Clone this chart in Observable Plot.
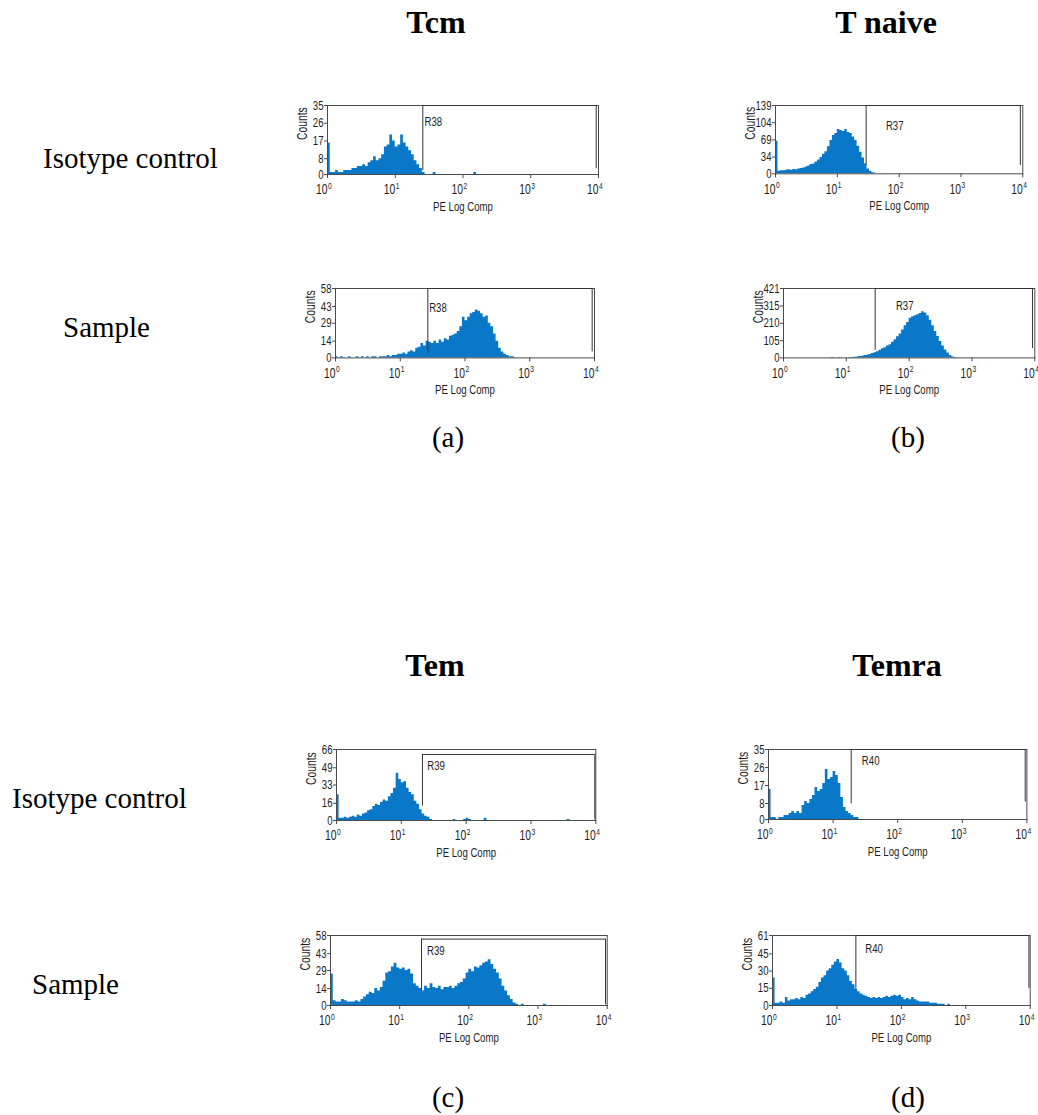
<!DOCTYPE html>
<html><head><meta charset="utf-8">
<script src="https://cdn.jsdelivr.net/npm/d3@7"></script>
<script src="https://cdn.jsdelivr.net/npm/@observablehq/plot@0.6"></script>
<style>
html,body{margin:0;padding:0;background:#fff;}
#page{position:relative;width:1038px;height:1115px;overflow:hidden;background:#fff;}
#page svg{position:absolute;overflow:visible;background:transparent;}
</style></head>
<body><div id="page"></div>
<script>
// ---------- DATA ----------
const decades = [0, 1, 2, 3, 4];           // log10 of PE intensity (10^0 .. 10^4)
const BIN = 0.04;                          // histogram bin width in decades

const tcmIso = [16,1,1,2,1,1,2,2,2,3, 3,4,4,5,4,6,7,9,7,8, 10,14,15,20,17,14,15,20,16,14, 12,10,7,5,3,1,0,0,0,1, 0,0,0,0,0,0,0,0,0,0, 0,0,0,0,1];
const tcmSample = [1,0,1,0,0,1,0,0,1,0, 1,0,1,0,1,1,0,1,1,1, 2,1,2,2,3,3,4,3,5,6, 5,8,9,12,10,14,13,12,14,12, 15,13,16,15,18,19,20,22,26,34, 31,34,37,38,40,39,37,34,35,29, 26,20,14,8,5,3,2,1,1];
const tnIso = [66,5,6,6,7,8,7,9,8,10, 11,12,14,16,19,20,24,28,33,40, 45,55,68,78,82,90,88,86,90,84, 82,75,68,56,44,32,20,10,5,2, 1];
const tnSample = [0,0,0,0,0,0,0,0,0,0, 0,0,0,0,0,0,0,0,0,3, 0,0,3,0,0,0,2,3,4,6, 8,10,14,16,20,26,32,38,46,55, 62,72,80,95,110,128,145,170,195,215, 240,250,255,262,270,280,272,255,228,195, 160,130,100,72,48,30,15,6,2];
const temIso = [24,2,2,3,2,3,4,3,5,4, 6,7,9,10,13,15,14,17,19,18, 22,25,30,44,38,35,36,30,26,24, 18,15,10,6,4,3,1,0,0,0, 0,0,0,0,0,1,0,0,0,1, 2,1,0,0,0,0,0,2,0,0, 0,0,0,0,0,0,0,0,0,0, 0,0,0,0,0,0,0,0,0,0, 0,0,0,0,0,0,0,0,0,1];
const temSample = [26,4,3,3,5,4,3,3,3,4, 3,5,7,9,11,10,14,12,15,20, 27,28,32,35,31,30,31,29,30,26, 18,16,14,12,16,14,18,15,14,16, 13,15,15,16,14,16,18,19,22,27, 30,28,32,31,33,35,36,38,34,30, 27,22,16,12,8,5,2,1,0,1, 0,0,0,0,0,0,0,1];
const temraIso = [15,1,1,0,1,1,2,2,3,4, 3,4,3,7,9,8,10,12,16,14, 15,18,25,20,21,24,22,18,11,6, 4,3,2,1,1];
const temraSample = [24,2,2,3,2,7,4,5,5,6, 5,7,6,9,10,12,14,16,20,24, 26,30,32,35,38,40,37,32,30,26, 21,18,14,12,10,9,8,7,6,7, 6,7,6,7,8,7,8,9,8,9, 7,5,6,5,7,5,4,3,3,3, 3,2,2,2,1,1,1,0,1];

const yTickSets = [
  [0, 8, 17, 26, 35], [0, 14, 29, 43, 58],
  [0, 34, 69, 104, 139], [0, 105, 210, 315, 421],
  [0, 16, 33, 49, 66], [0, 14, 29, 43, 58],
  [0, 8, 17, 26, 35], [0, 15, 30, 45, 61]
];
const gateNames = ["R38", "R38", "R37", "R37", "R39", "R39", "R40", "R40"];
const gateStart = [1.407, 1.426, 1.466, 1.459, 1.326, 1.316, 1.28, 1.294];
const gateEnd   = [3.966, 3.964, 3.96, 3.963, 3.985, 3.976, 3.974, 3.98];
const gateTop   = [35, 58, 139, 421, 61.4, 55, 35, 61];
const gateLowStart = [2, 3.6, 17, 46, 13.3, 11.6, 7.8, 13.7];
const gateLowEnd   = [2.9, 5, 17, 57, 0.5, 0.5, 8.7, 15];

const histograms = [tcmIso, tcmSample, tnIso, tnSample, temIso, temSample, temraIso, temraSample];

// ---------- LAYOUT (screen placement of each panel's frame) ----------
const frames = [
  {x0: 327.3, x4: 598.3, top: 104.7, bottom: 173.7},
  {x0: 335.0, x4: 594.0, top: 288.3, bottom: 357.7},
  {x0: 775.0, x4: 1022.3, top: 104.7, bottom: 173.0},
  {x0: 782.7, x4: 1034.0, top: 288.3, bottom: 357.7},
  {x0: 335.7, x4: 595.0, top: 748.7, bottom: 819.7},
  {x0: 330.0, x4: 606.7, top: 935.3, bottom: 1005.3},
  {x0: 768.3, x4: 1026.7, top: 749.3, bottom: 819.3},
  {x0: 772.3, x4: 1030.0, top: 935.3, bottom: 1005.3}
];
const labelOffset = [0.025, 0.02, 0.32, 0.33, 0.075, 0.08, 0.165, 0.145];
const labelDy = [11, 14, 15, 12, 6, 7, 6, 8];

const page = document.getElementById("page");
const SANS = "'Liberation Sans', Arial, Helvetica, sans-serif";
const BLUE = "#0a78c8";
const INK = "#1e1e1e";

histograms.forEach((counts, k) => {
  const F = frames[k];
  const ticks = yTickSets[k];
  const ymax = ticks[ticks.length - 1];
  const steps = counts.map((c, i) => ({x: i * BIN, n: c}));
  steps.push({x: counts.length * BIN, n: 0});
  const gate = {s: gateStart[k], e: gateEnd[k], top: gateTop[k], name: gateNames[k]};
  const mL = 44, mT = 6, mB = 46;
  const w = F.x4 - F.x0, h = F.bottom - F.top;
  const width = Math.ceil(w + mL + 10);
  const height = Math.ceil(h + mT + mB);
  const svg = Plot.plot({
    width, height,
    marginLeft: mL, marginRight: width - mL - w, marginTop: mT, marginBottom: height - mT - h,
    x: {domain: [0, 4]},
    y: {domain: [0, ymax]},
    style: {fontFamily: SANS, fontSize: "13px", color: INK, background: "transparent", overflow: "visible"},
    marks: [
      Plot.areaY(steps, {x: "x", y: "n", curve: "step-after", fill: BLUE}),
      Plot.frame({stroke: "#4a4a4a"}),
      Plot.ruleX([{x: gate.s, y1: gateLowStart[k], y2: gate.top}, {x: gate.e, y1: gateLowEnd[k], y2: gate.top}],
        {x: "x", y1: "y1", y2: "y2", stroke: "#333"}),
      Plot.ruleY([{y: gate.top, x1: gate.s, x2: gate.e}], {y: "y", x1: "x1", x2: "x2", stroke: "#333"}),
      Plot.text([gate], {x: d => d.s + labelOffset[k], y: "top", text: "name", textAnchor: "start",
        lineAnchor: "top", dy: labelDy[k], fontSize: 13, fill: INK}),
      Plot.axisY({ticks, tickSize: 3, tickPadding: 1, fontSize: 13, label: null, stroke: "#4a4a4a"}),
      Plot.axisX({ticks: decades, tickSize: 4, tickFormat: () => "", label: null, stroke: "#4a4a4a"}),
      Plot.text(decades, {x: d => d, text: () => "10", frameAnchor: "bottom", textAnchor: "end",
        lineAnchor: "top", dy: 10, fontSize: 14, fill: INK}),
      Plot.text(decades, {x: d => d, text: d => String(d), frameAnchor: "bottom", textAnchor: "start",
        lineAnchor: "top", dy: 8, dx: 0.5, fontSize: 9, fill: INK}),
      Plot.text(["PE Log Comp"], {frameAnchor: "bottom", lineAnchor: "top", dy: 27, fontSize: 13, fill: INK}),
      Plot.text(["Counts"], {frameAnchor: "left", rotate: -90, dx: -25, fontSize: 14, fill: INK})
    ]
  });
  // condense the sans-serif lettering like the cytometer export
  svg.querySelectorAll("text").forEach(t => {
    const tr = t.getAttribute("transform");
    if (tr) t.setAttribute("transform", tr + " scale(0.74,1)");
  });
  svg.style.position = "absolute";
  svg.style.left = (F.x0 - mL) + "px";
  svg.style.top = (F.top - mT) + "px";
  svg.style.maxWidth = "none";
  page.appendChild(svg);
});

// ---------- page-level serif lettering ----------
const pageTexts = [
  {t: "Tcm", x: 436, y: 33, bold: true, a: "middle", s: 32},
  {t: "T naive", x: 886, y: 33, bold: true, a: "middle", s: 32},
  {t: "Isotype control", x: 43, y: 168, a: "start", s: 29},
  {t: "Sample", x: 63, y: 337, a: "start", s: 29},
  {t: "(a)", x: 448, y: 447, a: "middle", s: 29},
  {t: "(b)", x: 908, y: 447, a: "middle", s: 29},
  {t: "Tem", x: 435, y: 676, bold: true, a: "middle", s: 32},
  {t: "Temra", x: 897, y: 676, bold: true, a: "middle", s: 32},
  {t: "Isotype control", x: 12, y: 808, a: "start", s: 29},
  {t: "Sample", x: 32, y: 994, a: "start", s: 29},
  {t: "(c)", x: 448, y: 1107, a: "middle", s: 29},
  {t: "(d)", x: 908, y: 1107, a: "middle", s: 29}
];
const ns = "http://www.w3.org/2000/svg";
const overlay = document.createElementNS(ns, "svg");
overlay.setAttribute("width", 1038);
overlay.setAttribute("height", 1115);
overlay.style.left = "0px"; overlay.style.top = "0px";
pageTexts.forEach(p => {
  const el = document.createElementNS(ns, "text");
  el.setAttribute("x", p.x); el.setAttribute("y", p.y);
  el.setAttribute("text-anchor", p.a);
  el.setAttribute("font-family", "'Liberation Serif', 'Times New Roman', serif");
  el.setAttribute("font-size", p.s);
  if (p.bold) el.setAttribute("font-weight", "bold");
  el.setAttribute("fill", "#000");
  el.textContent = p.t;
  overlay.appendChild(el);
});
page.appendChild(overlay);
</script>
</body></html>
